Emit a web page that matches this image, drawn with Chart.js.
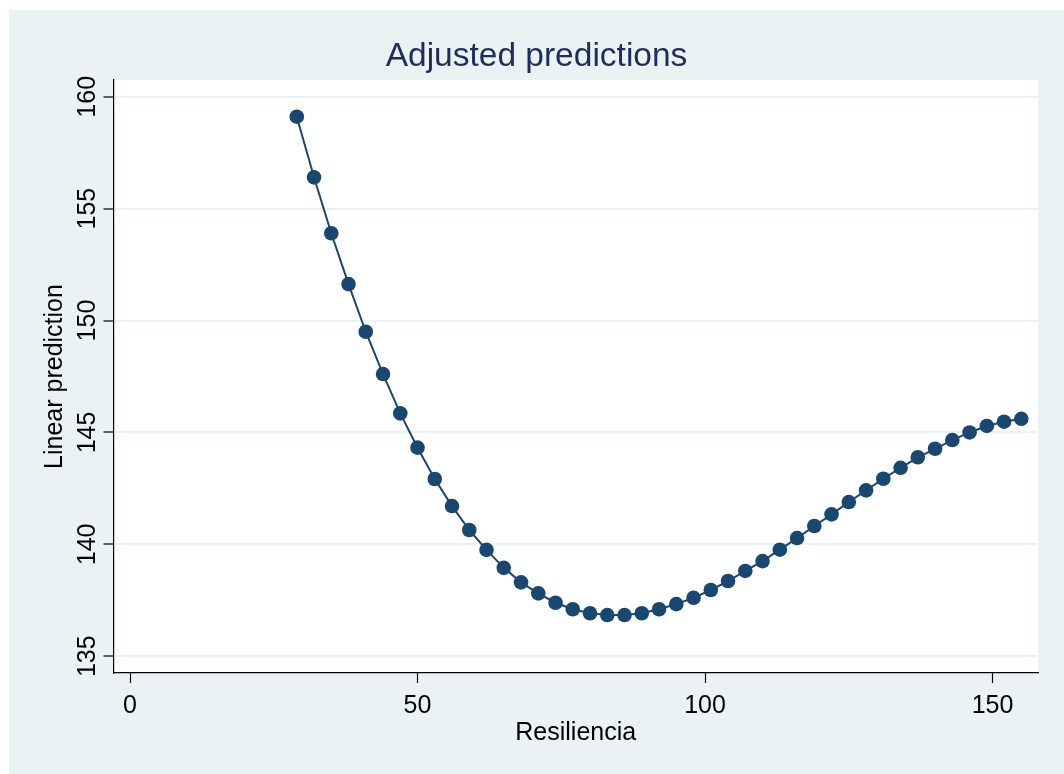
<!DOCTYPE html>
<html>
<head>
<meta charset="utf-8">
<title>Adjusted predictions</title>
<script src="https://cdn.jsdelivr.net/npm/chart.js@4/dist/chart.umd.min.js"></script>
<style>
  html, body { margin: 0; padding: 0; background: #ffffff; }
  #wrap { width: 1064px; height: 774px; }
</style>
</head>
<body>
<div id="wrap"><canvas id="chart" width="1064" height="774"></canvas></div>
<script>
// Resiliencia values (x) and linear predictions (y)
const resiliencia = [29, 32, 35, 38, 41, 44, 47, 50, 53, 56, 59, 62, 65, 68, 71, 74, 77, 80, 83, 86, 89,
  92, 95, 98, 101, 104, 107, 110, 113, 116, 119, 122, 125, 128, 131, 134, 137, 140, 143, 146, 149, 152, 155];
const linearPrediction = [159.11, 156.40, 153.90, 151.63, 149.50, 147.61, 145.85, 144.32, 142.92, 141.71,
  140.64, 139.75, 138.95, 138.30, 137.81, 137.39, 137.10, 136.92, 136.84, 136.84, 136.92, 137.10, 137.33,
  137.61, 137.96, 138.36, 138.81, 139.25, 139.76, 140.28, 140.82, 141.34, 141.89, 142.41, 142.93, 143.42,
  143.89, 144.27, 144.66, 145.00, 145.29, 145.48, 145.61];
const xTicks = [0, 50, 100, 150];
const yTicks = [135, 140, 145, 150, 155, 160];

const points = resiliencia.map((x, i) => ({ x: x, y: linearPrediction[i] }));

const NAVY = '#1a476f';
const PANEL = '#eaf2f3';
const FONT = "'Liberation Sans', Arial, sans-serif";

// graph region (light panel) and white plot region behind everything
const backdrop = {
  id: 'backdrop',
  beforeDraw(chart) {
    const { ctx, chartArea: a } = chart;
    ctx.save();
    ctx.fillStyle = '#ffffff';
    ctx.fillRect(0, 0, chart.width, chart.height);
    ctx.fillStyle = PANEL;
    ctx.fillRect(9, 10, chart.width - 9, chart.height - 10);
    ctx.fillStyle = '#ffffff';
    ctx.fillRect(a.left, a.top, a.right - a.left, a.bottom - a.top);
    ctx.restore();
  }
};

new Chart(document.getElementById('chart'), {
  type: 'line',
  data: {
    datasets: [{
      data: points,
      borderColor: NAVY,
      borderWidth: 2,
      backgroundColor: NAVY,
      pointBackgroundColor: NAVY,
      pointBorderWidth: 0,
      pointRadius: 7.3,
      tension: 0,
      fill: false
    }]
  },
  options: {
    responsive: false,
    devicePixelRatio: 1,
    animation: false,
    layout: { padding: { top: 10, left: 9, right: 0, bottom: 0 } },
    plugins: {
      legend: { display: false },
      tooltip: { enabled: false },
      title: {
        display: true,
        text: 'Adjusted predictions',
        color: '#1e2e5c',
        font: { family: FONT, size: 33.5, weight: 'normal', lineHeight: 1.2 },
        padding: { top: 26.4, bottom: 3.4 }
      }
    },
    scales: {
      x: {
        type: 'linear',
        min: -2.87,
        max: 157.9,
        afterBuildTicks(scale) { scale.ticks = xTicks.map(v => ({ value: v })); },
        afterFit(scale) { scale.height = 101; },
        border: { display: true, color: '#000000', width: 1.2 },
        grid: { drawOnChartArea: false, drawTicks: true, tickLength: 10, tickColor: '#000000', tickWidth: 1.2 },
        ticks: { color: '#000000', padding: 8, font: { family: FONT, size: 25 }, maxRotation: 0, minRotation: 0 },
        title: {
          display: true,
          text: 'Resiliencia',
          color: '#000000',
          font: { family: FONT, size: 25, lineHeight: 1.2 },
          padding: { top: 0, bottom: 26 }
        }
      },
      y: {
        type: 'linear',
        min: 134.25,
        max: 160.75,
        afterBuildTicks(scale) { scale.ticks = yTicks.map(v => ({ value: v })); },
        afterFit(scale) { scale.width = 104.5; },
        border: { display: true, color: '#000000', width: 1.2 },
        grid: { color: PANEL, lineWidth: 2, drawTicks: true, tickLength: 10, tickColor: '#000000', tickWidth: 1.2 },
        ticks: {
          color: '#000000',
          padding: -5.4,
          crossAlign: 'center',
          minRotation: 90,
          maxRotation: 90,
          font: { family: FONT, size: 25 }
        },
        title: {
          display: true,
          text: 'Linear prediction',
          color: '#000000',
          font: { family: FONT, size: 25, lineHeight: 1.2 },
          padding: { top: 31, bottom: 0 }
        }
      },
      // empty right-hand margin of the graph region
      yMargin: {
        type: 'linear',
        position: 'right',
        display: true,
        afterFit(scale) { scale.width = 26; },
        border: { display: false },
        grid: { display: false, drawTicks: false },
        ticks: { display: false },
        title: { display: false }
      }
    }
  },
  plugins: [backdrop]
});
</script>
</body>
</html>
